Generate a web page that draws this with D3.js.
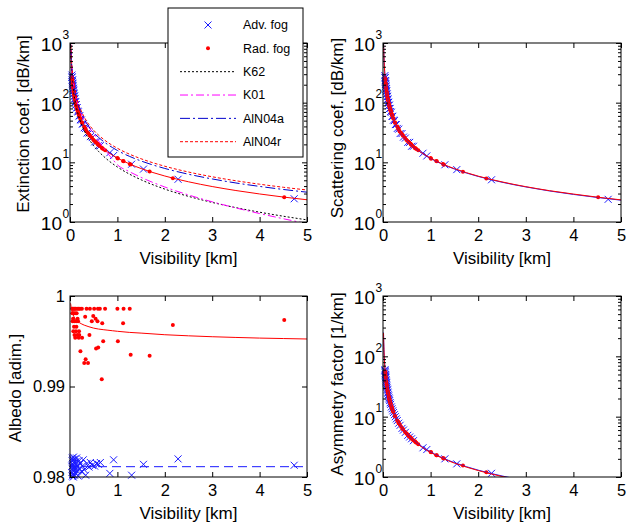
<!DOCTYPE html>
<html>
<head>
<meta charset="utf-8">
<script src="https://cdn.jsdelivr.net/npm/d3@7"></script>
<style>
body{margin:0;background:#fff;}
svg{display:block;font-family:"Liberation Sans", Arial, Helvetica, sans-serif;}
</style>
</head>
<body>
<script>
// tick values
const visTicks = [0, 1, 2, 3, 4, 5];
const logTicks = [1, 10, 100, 1000];
const albTicks = [0.98, 0.99, 1];

// advection fog events
const advV = [0.040,0.042,0.045,0.048,0.050,0.052,0.055,0.058,0.060,0.063,0.066,0.070,0.073,0.076,0.080,0.085,0.090,0.095,0.100,0.105,0.110,0.118,0.125,0.133,0.140,0.150,0.160,0.175,0.190,0.205,0.220,0.240,0.260,0.280,0.300,0.330,0.360,0.400,0.430,0.470,0.520,0.560,0.600,0.640,0.840,0.920,1.300,1.550,2.280,4.730];
const advExt = [290,265,270,240,225,238,205,212,190,195,172,175,158,162,145,142,128,130,115,118,104,103,92,93,82,82,72,70,60,60,52,51,44,44,38,37,31,31,27,26,22,22,19,19,14.5,13,9.3,7.7,5.2,2.45];
const advScat = [284,260,265,235,221,233,201,208,186,191,169,172,155,159,142,139,126,128,113,116,102,101,90,91,80,80,71,69,59,59,51,50,43,43,37,36,30.4,30.4,26.5,25.5,21.6,21.6,18.6,18.6,14.2,12.8,9.1,7.55,5.1,2.4];
const advAlb = [0.9812,0.9805,0.9818,0.9801,0.9821,0.9809,0.9815,0.9803,0.9819,0.9808,0.9813,0.9800,0.9822,0.9810,0.9806,0.9816,0.9811,0.9802,0.9820,0.9808,0.9814,0.9804,0.9817,0.9810,0.9821,0.9807,0.9813,0.9801,0.9818,0.9809,0.9815,0.9806,0.9812,0.9819,0.9808,0.9802,0.9815,0.9811,0.9816,0.9813,0.9812,0.9815,0.9814,0.9816,0.9804,0.9819,0.9802,0.9814,0.9820,0.9813];
const advAsym = [58,60,56,53,50,49,47,45,44,41,39,37,36,34,32,30.5,28.5,27.5,25.5,24.5,23,22,20.5,19.5,18.5,17,16,14.5,13.5,12.5,11.7,10.8,10,9.2,8.6,7.8,7.2,6.4,6.0,5.5,4.9,4.6,4.3,4.0,3.05,2.85,2.0,1.65,1.15,0.55];

// radiation fog events
const radV = [0.045,0.050,0.055,0.060,0.065,0.070,0.075,0.080,0.085,0.090,0.095,0.100,0.105,0.110,0.120,0.125,0.130,0.135,0.140,0.150,0.155,0.160,0.170,0.180,0.185,0.190,0.195,0.210,0.220,0.250,0.255,0.300,0.320,0.330,0.350,0.380,0.410,0.420,0.460,0.490,0.510,0.540,0.550,0.580,0.590,0.595,0.630,0.670,0.680,0.700,0.740,1.000,1.010,1.120,1.130,1.260,1.280,1.680,2.170,4.520];
const radExt = [258,240,212,200,179,171,155,149,137,133,122,119,111,109,97,96,90,88,83,80,75,74,70,65,64,62,61,56,54,47,46,40,37,36,33,31,29,28,26,24,23,22,21.5,20.5,20,19.8,18.7,17.5,17.3,16.8,16,11.8,11.6,10.5,10.4,9.4,9.2,7.0,5.4,2.6];
const radScat = [257,239,211,199,178,170,154,148,136,132,121,118,110,108,96.5,95.5,89.6,87.7,82.7,79.7,74.7,73.7,69.8,64.8,63.7,61.8,60.8,55.8,53.7,46.9,45.8,39.8,36.9,35.8,32.9,30.9,28.9,27.9,25.9,23.9,22.9,21.9,21.4,20.4,19.9,19.7,18.6,17.4,17.2,16.7,15.9,11.8,11.5,10.5,10.4,9.35,9.15,6.97,5.38,2.59];
const radAlb = [0.9986,0.9981,0.9972,0.9986,0.9975,0.9961,0.9981,0.9986,0.9966,0.9972,0.9957,0.9986,0.9981,0.9954,0.9986,0.9961,0.9972,0.9966,0.9981,0.9986,0.9957,0.9975,0.9972,0.9986,0.9954,0.9961,0.9957,0.9986,0.9939,0.9986,0.9954,0.9926,0.9977,0.9930,0.9986,0.9926,0.9957,0.9986,0.9972,0.9978,0.9986,0.9975,0.9942,0.9972,0.9986,0.9943,0.9986,0.9908,0.9970,0.9950,0.9986,0.9986,0.9950,0.9970,0.9986,0.9986,0.9935,0.9934,0.9968,0.99735];
const radAsym = [56,53,47,44,39,37.5,34,33,30,29,27,26,24.5,24,21.5,21,19.8,19.5,18.4,17.5,16.6,16.4,15.2,14.6,14,13.6,13.4,12.3,11.9,10.3,10.2,8.6,8.2,7.8,7.5,6.8,6.3,6.2,5.6,5.3,5.1,4.8,4.7,4.5,4.4,4.35,4.1,3.9,3.8,3.7,3.5,2.6,2.58,2.3,2.3,2.06,2.03,1.55,1.2,0.58];

// fitted and model curves
const fitV = [0.0105,0.012,0.015,0.02,0.025,0.03,0.04,0.05,0.06,0.08,0.1,0.125,0.15,0.2,0.25,0.3,0.4,0.5,0.6,0.7,0.8,0.9,1,1.25,1.5,2,2.5,3,3.5,4,4.5,5];
const extFitRad = [1124,983,787,590,472,393,295,236,197,148,118,94.4,78.7,59,47.2,39.3,29.5,23.6,19.7,16.9,14.8,13.1,11.8,9.44,7.87,5.9,4.72,3.93,3.37,2.95,2.62,2.36];
const k62 = [1276,1109,878,649,513,422,311,245,201,147,115.5,90.4,73.9,53.7,41.8,34.0,24.5,18.9,15.3,12.8,10.9,9.47,8.35,6.37,5.10,3.56,2.69,2.13,1.74,1.46,1.25,1.086];
const k01 = [1457,1275,1020,765,612,510,382.5,306,255,191,153,122.4,102,76.5,61.2,51,38.25,30.6,23.0,17.8,14.0,11.2,9.11,7.0,5.59,3.86,2.84,2.18,1.72,1.386,1.134,0.94];
const alN04a = [1505,1317,1053,790,632,527,395,316,263,197.5,158,126.4,105.3,79,63.2,52.7,39.5,31.6,26.3,22.6,19.75,17.6,15.8,12.64,10.53,7.9,6.32,5.27,4.51,3.95,3.51,3.16];
const alN04r = [1638,1433,1147,860,688,573,430,344,287,215,172,137.6,114.7,86,68.8,57.3,43,34.4,28.7,24.6,21.5,19.1,17.2,13.76,11.47,8.6,6.88,5.73,4.91,4.3,3.82,3.44];
const scatFitRad = [1119,979,784,588,470,391,294,235,196,147,117.5,94,78.4,58.8,47,39.2,29.4,23.5,19.6,16.8,14.7,13.05,11.75,9.4,7.84,5.87,4.70,3.91,3.35,2.94,2.61,2.35];
const scatFitAdv = [1105,967,773,580,464,387,290,232,193,145,116,92.8,77.3,58,46.4,38.7,29,23.2,19.3,16.6,14.5,12.9,11.6,9.28,7.73,5.8,4.64,3.87,3.31,2.9,2.58,2.32];
const albFitRad = [0.9992,0.99918,0.9991,0.9989,0.9987,0.9986,0.99835,0.99815,0.998,0.99775,0.99755,0.9974,0.99725,0.99705,0.9969,0.99678,0.9966,0.99645,0.99635,0.99628,0.99622,0.99616,0.9961,0.99598,0.9959,0.99572,0.9956,0.9955,0.99542,0.99535,0.9953,0.99525];
const albFitAdvV = [0, 5];
const albFitAdv = [0.98114, 0.98114];
const asymFitRad = [243,212.5,170,127.5,102,85,63.75,51,42.5,31.9,25.5,20.4,17,12.75,10.2,8.5,6.38,5.1,4.25,3.64,3.19,2.83,2.55,2.04,1.7,1.28,1.02,0.85,0.73,0.64,0.57,0.51];
const asymFitAdv = [248,217,173,130,104,86.7,65,52,43.3,32.5,26,20.8,17.3,13,10.4,8.67,6.5,5.2,4.33,3.71,3.25,2.89,2.6,2.08,1.73,1.3,1.04,0.87,0.74,0.65,0.58,0.52];

const legendItems = ['Adv. fog', 'Rad. fog', 'K62', 'K01', 'AlN04a', 'AlN04r'];

const BLUE = '#1a1aff', RED = '#ff0000', MAG = '#ff00ff';
const TICK_FS = 16.5, TITLE_FS = 17;

const svg = d3.select('body').append('svg')
	.attr('width', 626)
	.attr('height', 527);

let clipCount = 0;

function buildPanel(box, logY){
	const x = d3.scaleLinear().domain([0, 5]).range([box.l, box.r]);
	const y = logY
		? d3.scaleLog().domain([1, 1000]).range([box.b, box.t])
		: d3.scaleLinear().domain([0.98, 1]).range([box.b, box.t]);
	const clipId = 'clip' + (clipCount++);
	svg.append('clipPath').attr('id', clipId)
		.append('rect')
		.attr('x', box.l).attr('y', box.t)
		.attr('width', box.r - box.l).attr('height', box.b - box.t);
	return {box, x, y, clipId, logY};
}

function drawLine(p, xs, ys, color, dash){
	const pts = xs.map((v, i) => [v, ys[i]]);
	const lineFn = d3.line()
		.x(d => p.x(d[0]))
		.y(d => p.y(d[1]))
		.curve(d3.curveMonotoneX);
	svg.append('path')
		.datum(pts)
		.attr('clip-path', `url(#${p.clipId})`)
		.attr('d', lineFn)
		.attr('fill', 'none')
		.attr('stroke', color)
		.attr('stroke-width', 1)
		.attr('stroke-dasharray', dash || null);
}

function inRange(p, v){
	const d = p.y.domain();
	return v >= d[0] && v <= d[1];
}

function drawCrosses(p, xs, ys){
	const s = 3.5;
	const pts = xs.map((v, i) => [v, ys[i]]).filter(d => inRange(p, d[1]));
	svg.append('g').selectAll('path')
		.data(pts)
		.enter()
		.append('path')
		.attr('transform', d => `translate(${p.x(d[0])},${p.y(d[1])})`)
		.attr('d', `M${-s},${-s}L${s},${s}M${-s},${s}L${s},${-s}`)
		.attr('stroke', BLUE)
		.attr('stroke-width', 1)
		.attr('fill', 'none');
}

function drawDots(p, xs, ys){
	const pts = xs.map((v, i) => [v, ys[i]]).filter(d => inRange(p, d[1]));
	svg.append('g').selectAll('circle')
		.data(pts)
		.enter()
		.append('circle')
		.attr('cx', d => p.x(d[0]))
		.attr('cy', d => p.y(d[1]))
		.attr('r', 2)
		.attr('fill', RED);
}

function styleAxis(g){
	g.select('.domain').remove();
	g.selectAll('line').attr('stroke', '#000');
	g.attr('font-family', null).attr('font-size', TICK_FS);
	g.selectAll('text').attr('fill', '#000');
}

function drawFrame(p, yTitle, titleX, titleY){
	const {l, r, t, b} = p.box;

	svg.append('g').attr('transform', `translate(0,${b})`)
		.call(d3.axisBottom(p.x).tickValues(visTicks).tickSize(-5).tickSizeOuter(0).tickPadding(7)
			.tickFormat(d3.format('d')))
		.call(styleAxis);
	svg.append('g').attr('transform', `translate(0,${t})`)
		.call(d3.axisTop(p.x).tickValues(visTicks).tickSize(-5).tickSizeOuter(0).tickFormat(''))
		.call(styleAxis);

	if (p.logY){
		const minors = [];
		[1, 10, 100].forEach(dec => d3.range(2, 10).forEach(k => minors.push(dec * k)));
		[['axisLeft', l], ['axisRight', r]].forEach(([fn, pos]) => {
			svg.append('g').attr('transform', `translate(${pos},0)`)
				.call(d3[fn](p.y).tickValues(logTicks).tickSize(-5).tickSizeOuter(0).tickFormat(''))
				.call(styleAxis);
			svg.append('g').attr('transform', `translate(${pos},0)`)
				.call(d3[fn](p.y).tickValues(minors).tickSize(-3).tickSizeOuter(0).tickFormat(''))
				.call(styleAxis);
		});
		logTicks.forEach(v => {
			const yy = p.y(v);
			svg.append('text')
				.attr('x', l - 8)
				.attr('y', yy + 8)
				.attr('text-anchor', 'end')
				.attr('font-size', 19)
				.text('10');
			svg.append('text')
				.attr('x', l - 7.5)
				.attr('y', yy - 4.5)
				.attr('font-size', 12)
				.text(Math.round(Math.log10(v)));
		});
	} else {
		svg.append('g').attr('transform', `translate(${l},0)`)
			.call(d3.axisLeft(p.y).tickValues(albTicks).tickSize(-5).tickSizeOuter(0).tickPadding(5)
				.tickFormat(d => d === 1 ? '1' : d3.format('.2f')(d)))
			.call(styleAxis);
		svg.append('g').attr('transform', `translate(${r},0)`)
			.call(d3.axisRight(p.y).tickValues(albTicks).tickSize(-5).tickSizeOuter(0).tickFormat(''))
			.call(styleAxis);
	}

	svg.append('rect')
		.attr('x', l).attr('y', t)
		.attr('width', r - l).attr('height', b - t)
		.attr('fill', 'none')
		.attr('stroke', '#000')
		.attr('stroke-width', 1);

	svg.append('text')
		.attr('x', (l + r) / 2)
		.attr('y', b + 42)
		.attr('text-anchor', 'middle')
		.attr('font-size', TITLE_FS)
		.text('Visibility [km]');

	svg.append('text')
		.attr('transform', `translate(${titleX},${titleY}) rotate(-90)`)
		.attr('text-anchor', 'middle')
		.attr('dy', '0.35em')
		.attr('font-size', TITLE_FS)
		.text(yTitle);
}

// top left: extinction
const pExt = buildPanel({l: 70, r: 307, t: 43, b: 222}, true);
drawCrosses(pExt, advV, advExt);
drawDots(pExt, radV, radExt);
drawLine(pExt, fitV, extFitRad, RED);
drawLine(pExt, fitV, k62, '#000', '2,2');
drawLine(pExt, fitV, k01, MAG, '8,3,2,3');
drawLine(pExt, fitV, alN04a, '#0000cc', '10,3,2,3');
drawLine(pExt, fitV, alN04r, RED, '3,2');
drawFrame(pExt, 'Extinction coef. [dB/km]', 23, 124);

// top right: scattering
const pScat = buildPanel({l: 383, r: 621, t: 43, b: 222}, true);
drawCrosses(pScat, advV, advScat);
drawDots(pScat, radV, radScat);
drawLine(pScat, fitV, scatFitAdv, BLUE);
drawLine(pScat, fitV, scatFitRad, RED);
drawFrame(pScat, 'Scattering coef. [dB/km]', 337, 128);

// bottom left: albedo
const pAlb = buildPanel({l: 70, r: 307, t: 296, b: 477}, false);
drawDots(pAlb, radV, radAlb);
drawLine(pAlb, fitV, albFitRad, RED);
drawCrosses(pAlb, advV, advAlb);
drawLine(pAlb, albFitAdvV, albFitAdv, BLUE, '9,5');
drawFrame(pAlb, 'Albedo [adim.]', 15, 388);

// bottom right: asymmetry
const pAsym = buildPanel({l: 383, r: 621, t: 296, b: 477}, true);
drawCrosses(pAsym, advV, advAsym);
drawDots(pAsym, radV, radAsym);
drawLine(pAsym, fitV, asymFitAdv, BLUE);
drawLine(pAsym, fitV, asymFitRad, RED);
drawFrame(pAsym, 'Asymmetry factor [1/km]', 337, 384);

// legend
const leg = svg.append('g');
leg.append('rect')
	.attr('x', 168).attr('y', 8)
	.attr('width', 135).attr('height', 149)
	.attr('fill', '#fff')
	.attr('stroke', '#000');

const legStyles = [
	{type: 'cross'},
	{type: 'dot'},
	{type: 'line', color: '#000', dash: '2,2'},
	{type: 'line', color: MAG, dash: '8,3,2,3'},
	{type: 'line', color: '#0000cc', dash: '10,3,2,3'},
	{type: 'line', color: RED, dash: '3,2'}
];

const legY = d3.scalePoint().domain(legendItems).range([25, 141.7]);

legendItems.forEach((name, i) => {
	const yy = legY(name);
	const st = legStyles[i];
	if (st.type === 'cross'){
		leg.append('path')
			.attr('transform', `translate(208,${yy})`)
			.attr('d', 'M-3.5,-3.5L3.5,3.5M-3.5,3.5L3.5,-3.5')
			.attr('stroke', BLUE)
			.attr('fill', 'none');
	} else if (st.type === 'dot'){
		leg.append('circle').attr('cx', 208).attr('cy', yy).attr('r', 2).attr('fill', RED);
	} else {
		leg.append('line')
			.attr('x1', 180).attr('x2', 236)
			.attr('y1', yy).attr('y2', yy)
			.attr('stroke', st.color)
			.attr('stroke-dasharray', st.dash);
	}
	leg.append('text')
		.attr('x', 243)
		.attr('y', yy)
		.attr('dy', '0.35em')
		.attr('font-size', 12.5)
		.text(name);
});
</script>
</body>
</html>
